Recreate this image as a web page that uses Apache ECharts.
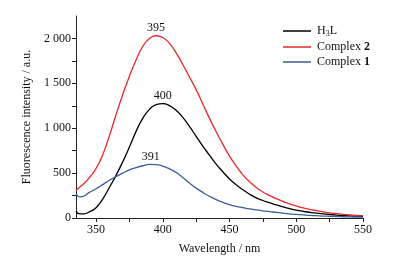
<!DOCTYPE html>
<html>
<head>
<meta charset="utf-8">
<script src="https://cdn.jsdelivr.net/npm/echarts@6/dist/echarts.min.js"></script>
<style>
  html, body { margin: 0; padding: 0; background: #fff; }
  #chart { width: 409px; height: 260px; }
</style>
</head>
<body>
<div id="chart"></div>
<script>
// wavelength (nm) shared by the three spectra
var wavelengths = [335, 338, 341, 345, 350, 355, 360, 365, 370, 375, 380, 385, 390, 395, 400, 405, 410, 415, 420, 425,
  430, 435, 440, 445, 450, 455, 460, 465, 470, 475, 480, 485, 490, 495, 500, 505, 510, 515, 520, 525,
  530, 535, 540, 545, 550];

var h3l = [75, 45, 46, 68, 115, 210, 340, 475, 625, 790, 965, 1110, 1210, 1262, 1275, 1252, 1200, 1120, 1020, 910,
  800, 700, 600, 515, 435, 370, 315, 265, 225, 195, 170, 145, 125, 105, 88, 75, 64, 54, 46, 39,
  33, 28, 24, 21, 19];
var complex2 = [310, 345, 385, 450, 550, 705, 915, 1150, 1375, 1580, 1760, 1910, 2000, 2030, 2010, 1945, 1840, 1710, 1570, 1430,
  1270, 1110, 960, 820, 690, 580, 480, 405, 340, 290, 250, 215, 185, 158, 135, 112, 96, 82, 68, 56,
  48, 41, 35, 30, 26];
var complex1 = [270, 235, 245, 285, 326, 372, 420, 462, 500, 535, 561, 582, 597, 595, 577, 548, 508, 452, 390, 333,
  285, 242, 205, 175, 150, 130, 115, 101, 90, 80, 72, 62, 54, 47, 40, 35, 30, 26, 22, 19,
  16, 14, 12, 10, 9];

// peak annotations [wavelength, intensity]
var peakH3L = [400, 1275];
var peak2 = [395, 2030];
var peak1 = [391, 597];

var xTicks = [350, 375, 400, 425, 450, 475, 500, 525, 550];
var xLabels = [350, 400, 450, 500, 550];
var yTicks = [0, 250, 500, 750, 1000, 1250, 1500, 1750, 2000];
var yLabels = [0, 500, 1000, 1500, 2000];

var font = 'Liberation Serif';

function pairs(ys) {
  return wavelengths.map(function (x, i) { return [x, ys[i]]; });
}

function peak(p) {
  return {
    symbol: 'circle',
    symbolSize: 0,
    label: { show: true, position: 'top', distance: 2, fontFamily: font, fontSize: 12, color: '#111', formatter: String(p[0]) },
    data: [{ coord: p }]
  };
}

var chart = echarts.init(document.getElementById('chart'));
var option = {
  animation: false,
  backgroundColor: '#fff',
  textStyle: { fontFamily: font },
  grid: { left: 76, right: 46, top: 16, bottom: 37, containLabel: false },
  legend: {
    orient: 'vertical',
    left: 278,
    top: 20,
    icon: 'rect',
    itemWidth: 28,
    itemHeight: 1.5,
    itemGap: 3,
    data: ['H3L', 'Complex 2', 'Complex 1'],
    textStyle: {
      fontFamily: font, fontSize: 12, color: '#111', padding: [0, 0, 0, 1],
      rich: {
        t: { fontFamily: font, fontSize: 12, color: '#111' },
        s: { fontFamily: font, fontSize: 8, color: '#111', verticalAlign: 'bottom', padding: [6, 0, 0, 0] },
        b: { fontFamily: font, fontSize: 12, color: '#111', fontWeight: 'bold' }
      }
    },
    formatter: function (name) {
      if (name === 'H3L') return '{t|H}{s|3}{t|L}';
      var parts = name.split(' ');
      return '{t|' + parts[0] + ' }{b|' + parts[1] + '}';
    }
  },
  xAxis: {
    type: 'value',
    min: 335,
    max: 550,
    name: 'Wavelength / nm',
    nameLocation: 'middle',
    nameGap: 25,
    nameTextStyle: { fontFamily: font, fontSize: 12, color: '#111' },
    splitLine: { show: false },
    axisLine: { show: true, lineStyle: { color: '#222', width: 1 } },
    axisTick: { show: true, length: 4, customValues: xTicks, lineStyle: { color: '#222' } },
    axisLabel: { customValues: xLabels, margin: 6, fontFamily: font, fontSize: 12, color: '#111' }
  },
  yAxis: {
    type: 'value',
    min: 0,
    max: 2250,
    name: 'Fluorescence intensity / a.u.',
    nameLocation: 'middle',
    nameGap: 30,
    nameTextStyle: { fontFamily: font, fontSize: 12, color: '#111' },
    splitLine: { show: false },
    axisLine: { show: true, lineStyle: { color: '#222', width: 1 } },
    axisTick: { show: true, length: 4, customValues: yTicks, lineStyle: { color: '#222' } },
    axisLabel: {
      customValues: yLabels, margin: 5, fontFamily: font, fontSize: 12, color: '#111',
      formatter: function (v) { return v >= 1000 ? Math.floor(v / 1000) + ' ' + String(v % 1000).padStart(3, '0') : String(v); }
    }
  },
  series: [
    {
      name: 'H3L', type: 'line', data: pairs(h3l), smooth: 0.5, symbol: 'none',
      lineStyle: { color: '#000', width: 1.3 }, itemStyle: { color: '#000' },
      markPoint: peak(peakH3L)
    },
    {
      name: 'Complex 2', type: 'line', data: pairs(complex2), smooth: 0.5, symbol: 'none',
      lineStyle: { color: '#e8282c', width: 1.3 }, itemStyle: { color: '#e8282c' },
      markPoint: peak(peak2)
    },
    {
      name: 'Complex 1', type: 'line', data: pairs(complex1), smooth: 0.5, symbol: 'none',
      lineStyle: { color: '#3a5d9c', width: 1.3 }, itemStyle: { color: '#3a5d9c' },
      markPoint: peak(peak1)
    }
  ]
};
chart.setOption(option);
</script>
</body>
</html>
